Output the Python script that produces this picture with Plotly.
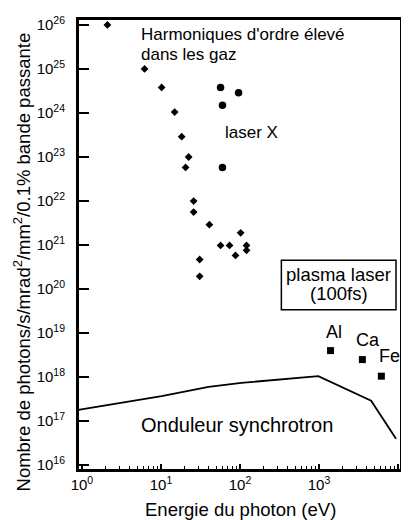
import plotly.graph_objects as go

# --- data ---
harm_x = [2.1, 6.2, 10.2, 14.9, 18.3, 22.4, 20.5, 25.9, 25.9, 41, 102, 56.8, 73.8, 121, 121, 87.8, 30.9, 30.9]
harm_y = [1e26, 1e25, 3.8e24, 1.05e24, 2.9e23, 1e23, 5.8e22, 1e22, 5.6e21, 2.9e21, 1.9e21,
          9.8e20, 9.8e20, 9.8e20, 7.6e20, 5.8e20, 4.7e20, 1.95e20]
laserx_x = [56.8, 96, 60, 60]
laserx_y = [3.8e24, 2.9e24, 1.5e24, 5.8e22]
plasma_x = [1400, 3540, 6160]
plasma_y = [4e18, 2.5e18, 1.05e18]
plasma_labels = ["Al", "Ca", "Fe"]
sync_x = [0.9, 10.2, 40, 104, 980, 4570, 9440]
sync_y = [1.8e17, 3.7e17, 6e17, 7.4e17, 1.05e18, 2.9e17, 4e16]

x_tick_exp = [0, 1, 2, 3, 4]
y_tick_exp = list(range(16, 27))

FONT = "Liberation Sans, Arial, Helvetica, sans-serif"

# the page body adds an 8px offset; size the figure so page pixels line up
OFF = 8
W, H = 409 - OFF, 520 - OFF
L_PAGE, R_PAGE, T_PAGE, B_PAGE = 78, 402, 14, 470
ML, MT = L_PAGE - OFF, T_PAGE - OFF
MR = W - (R_PAGE - OFF)
MB = H - (B_PAGE - OFF)
PW, PH = R_PAGE - L_PAGE, B_PAGE - T_PAGE


def px(x):
    return (x - L_PAGE) / PW


def py(y):
    return (B_PAGE - y) / PH


fig = go.Figure()
fig.add_trace(go.Scatter(x=sync_x, y=sync_y, mode="lines",
                         line=dict(color="black", width=1.8), showlegend=False))
fig.add_trace(go.Scatter(x=harm_x, y=harm_y, mode="markers",
                         marker=dict(symbol="diamond", size=6, color="black"), showlegend=False))
fig.add_trace(go.Scatter(x=laserx_x, y=laserx_y, mode="markers",
                         marker=dict(symbol="circle", size=7.5, color="black"), showlegend=False))
fig.add_trace(go.Scatter(x=plasma_x, y=plasma_y, mode="markers",
                         marker=dict(symbol="square", size=7, color="black"), showlegend=False))

minor_x = [float(m) * 10.0 ** k for k in range(0, 4) for m in range(2, 10)]

fig.update_xaxes(type="log", range=[-0.05, 4.038],
                 tickmode="array", tickvals=[10.0 ** e for e in x_tick_exp],
                 ticktext=[f"10<sup>{e}</sup>" for e in x_tick_exp],
                 ticks="inside", ticklen=6, tickwidth=1.5, tickcolor="black",
                 minor=dict(tickmode="array", tickvals=minor_x, ticks="inside",
                            ticklen=4, tickwidth=1.3, tickcolor="black", showgrid=False),
                 showline=True, linewidth=2, linecolor="black", mirror=True,
                 showgrid=False, zeroline=False,
                 tickfont=dict(family=FONT, size=15, color="black"))
fig.update_yaxes(type="log", range=[15.89, 26.135],
                 tickmode="array", tickvals=[10.0 ** e for e in y_tick_exp],
                 ticktext=[f"10<sup>{e}</sup>" for e in y_tick_exp],
                 ticks="inside", ticklen=11, tickwidth=1.5, tickcolor="black",
                 ticklabelstandoff=8,
                 showline=True, linewidth=2, linecolor="black", mirror=True,
                 showgrid=False, zeroline=False,
                 tickfont=dict(family=FONT, size=15, color="black"))

ann = []


def add_text(text, x, y, size, xanchor="left", angle=0):
    ann.append(dict(text=text, x=px(x), y=py(y), xref="paper", yref="paper",
                    xanchor=xanchor, yanchor="middle", showarrow=False, textangle=angle,
                    font=dict(family=FONT, size=size, color="black")))


add_text("Harmoniques d'ordre élevé", 139, 30, 17)
add_text("dans les gaz", 139, 50, 17)
add_text("laser X", 223, 129, 17)
add_text("plasma laser", 339.5, 272, 18.5, xanchor="center")
add_text("(100fs)", 339.5, 292, 18.5, xanchor="center")
for lab, (xx, yy) in zip(plasma_labels, [(335, 330), (369, 339), (390, 355)]):
    add_text(lab, xx, yy, 18, xanchor="center")
add_text("Onduleur synchrotron", 139, 424, 20)
add_text("Energie du photon (eV)", 241, 510, 18.5, xanchor="center")
add_text("Nombre de photons/s/mrad<sup>2</sup>/mm<sup>2</sup>/0.1% bande passante",
         22, 260, 18.5, xanchor="center", angle=-90)

shapes = [
    dict(type="rect", xref="paper", yref="paper", x0=0, x1=1, y0=0, y1=1,
         line=dict(color="black", width=2), fillcolor="rgba(0,0,0,0)", layer="above"),
    dict(type="rect", xref="paper", yref="paper",
         x0=px(282), x1=px(397), y0=py(308), y1=py(258),
         line=dict(color="black", width=1.5)),
]

fig.update_layout(
    width=W, height=H,
    margin=dict(l=ML, r=MR, t=MT, b=MB),
    paper_bgcolor="white", plot_bgcolor="white",
    annotations=ann,
    shapes=shapes,
)

fig.write_html("out.html")
